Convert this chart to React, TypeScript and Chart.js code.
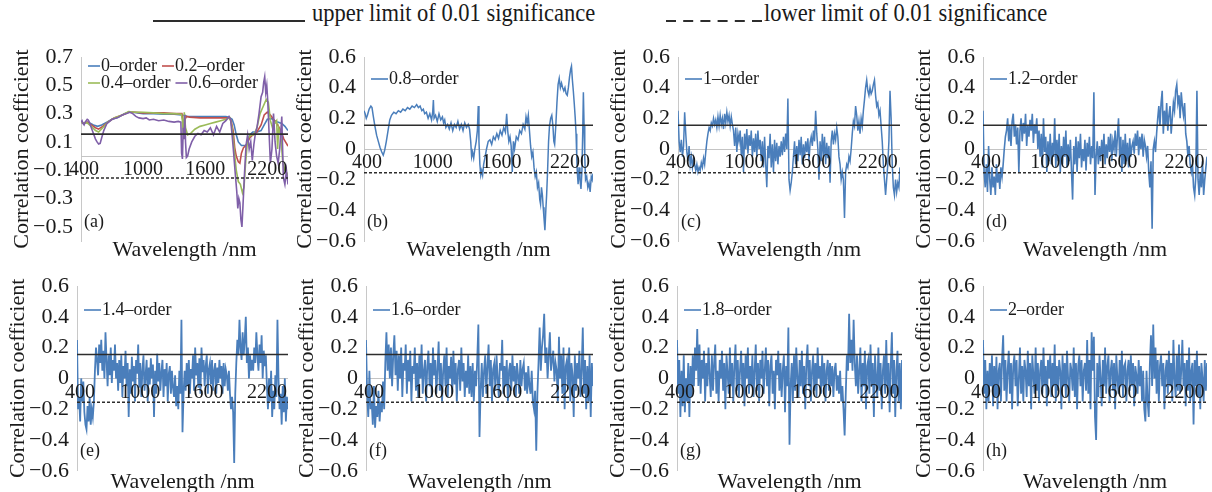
import React, { useEffect, useRef } from 'react';
import { Chart, registerables } from 'chart.js';

Chart.register(...registerables);

const FONT = "'Liberation Serif', 'Times New Roman', serif";
const TEXT = '#1a1a1a';
const BLUE = '#4a7ebb';

// ---- tick labels / thresholds ----
const X_TICKS = [400, 1000, 1600, 2200];
const Y_TICKS_A = [-0.5, -0.3, -0.1, 0.1, 0.3, 0.5, 0.7];
const Y_TICKS = [-0.6, -0.4, -0.2, 0, 0.2, 0.4, 0.6];
const UPPER_LIMIT = 0.155;
const LOWER_LIMIT = -0.155;

// ---- panel (a): [wavelength, r] ----
const A_ORDER_0 = [[400,.24],[430,.23],[460,.24],[480,.235],[520,.22],[560,.21],[600,.22],[650,.24],[700,.26],[760,.275],[820,.3],[860,.31],[900,.31],[950,.305],[1000,.3],[1100,.3],[1200,.295],[1300,.295],[1370,.29],[1385,.285],[1400,.29],[1420,.28],[1500,.28],[1600,.28],[1700,.28],[1800,.28],[1830,.275],[1860,.26],[1880,.22],[1900,.15],[1920,.1],[1950,.075],[1990,.075],[2010,.09],[2030,.15],[2060,.17],[2100,.17],[2140,.18],[2170,.22],[2200,.26],[2240,.265],[2270,.25],[2300,.24],[2340,.23],[2370,.21],[2400,.18]];
const A_ORDER_02 = [[400,.24],[430,.23],[460,.24],[500,.22],[540,.2],[570,.19],[610,.21],[660,.24],[720,.27],[800,.29],[860,.31],[920,.31],[1000,.305],[1100,.305],[1200,.305],[1300,.3],[1375,.3],[1385,.25],[1395,.2],[1405,.26],[1420,.28],[1450,.275],[1550,.27],[1650,.27],[1750,.27],[1830,.27],[1850,.25],[1870,.18],[1885,.06],[1900,0],[1920,-.04],[1935,-.05],[1950,.02],[1970,.06],[2000,.08],[2030,.13],[2060,.15],[2100,.17],[2140,.22],[2170,.29],[2200,.31],[2230,.29],[2260,.26],[2300,.22],[2330,.18],[2360,.12],[2400,.07]];
const A_ORDER_04 = [[400,.24],[430,.23],[460,.235],[500,.21],[540,.18],[570,.17],[610,.2],[660,.24],[720,.27],[800,.29],[860,.315],[920,.31],[1000,.31],[1100,.305],[1200,.3],[1300,.3],[1370,.295],[1380,.25],[1390,.13],[1398,.31],[1410,.2],[1430,.15],[1460,.16],[1500,.19],[1550,.21],[1600,.22],[1650,.23],[1700,.24],[1750,.25],[1800,.26],[1840,.27],[1860,.2],[1880,.05],[1900,-.1],[1920,-.18],[1940,-.2],[1960,-.26],[1975,-.22],[1990,-.05],[2010,.12],[2040,.15],[2070,.15],[2100,.2],[2130,.3],[2160,.35],[2190,.4],[2210,.38],[2230,.25],[2250,.2],[2270,.23],[2290,.25],[2300,.05],[2310,.2],[2330,.15],[2350,-.05],[2370,-.1],[2390,-.12],[2400,-.15]];
const A_ORDER_06 = [[400,.24],[410,.25],[420,.23],[430,.22],[440,.24],[450,.25],[460,.26],[470,.255],[480,.24],[500,.2],[520,.16],[540,.12],[555,.1],[570,.085],[585,.09],[600,.13],[620,.18],[650,.23],[700,.26],[750,.27],[800,.29],[840,.3],[870,.31],[900,.3],[930,.28],[960,.27],[1000,.265],[1030,.27],[1060,.255],[1100,.26],[1150,.25],[1200,.255],[1250,.245],[1300,.24],[1340,.245],[1365,.24],[1372,.02],[1380,-.02],[1388,.2],[1395,.12],[1403,.29],[1410,.1],[1418,-.01],[1430,0],[1445,.05],[1470,.1],[1500,.14],[1530,.16],[1560,.15],[1590,.18],[1620,.17],[1650,.2],[1680,.15],[1710,.21],[1740,.17],[1770,.23],[1800,.25],[1830,.28],[1845,.26],[1860,.15],[1875,.02],[1890,-.12],[1905,-.25],[1915,-.37],[1925,-.3],[1935,-.33],[1945,-.45],[1955,-.5],[1965,-.35],[1980,-.12],[1995,.08],[2010,.15],[2025,.05],[2040,.1],[2055,-.03],[2070,.08],[2085,.16],[2100,.2],[2120,.3],[2140,.42],[2155,.45],[2165,.52],[2175,.56],[2185,.45],[2195,.5],[2205,.38],[2215,.2],[2230,-.05],[2245,.05],[2260,.3],[2275,.1],[2290,0],[2305,-.05],[2320,.05],[2340,.28],[2355,-.15],[2370,-.2],[2385,-.1],[2400,-.2]];

// ---- panel (b): [wavelength, r] ----
const B_ORDER_08 = [[400,.25],[410,.23],[420,.2],[430,.22],[445,.26],[460,.28],[470,.27],[480,.22],[495,.15],[510,.09],[525,.05],[540,.01],[555,-.02],[568,-.04],[580,-.01],[595,.05],[610,.12],[625,.19],[640,.22],[660,.24],[680,.23],[700,.25],[720,.24],[740,.26],[760,.25],[780,.27],[800,.26],[820,.28],[840,.27],[860,.29],[875,.27],[890,.28],[905,.25],[918,.26],[930,.23],[945,.24],[960,.2],[975,.23],[990,.19],[1000,.24],[1006,.32],[1012,.2],[1025,.22],[1040,.18],[1055,.23],[1070,.19],[1085,.21],[1095,.17],[1105,.19],[1115,.14],[1130,.16],[1145,.13],[1160,.17],[1175,.12],[1190,.16],[1205,.14],[1220,.18],[1235,.13],[1250,.16],[1265,.12],[1280,.17],[1295,.14],[1310,.16],[1322,.13],[1332,.05],[1340,-.05],[1348,-.02],[1358,-.06],[1368,0],[1380,.05],[1390,.12],[1398,.28],[1404,.05],[1412,-.1],[1420,-.17],[1428,-.14],[1436,-.17],[1445,-.1],[1458,-.05],[1470,0],[1485,.05],[1500,.06],[1515,.03],[1530,.08],[1545,.06],[1560,.1],[1575,.07],[1590,.12],[1605,.09],[1620,.14],[1635,.11],[1646,.23],[1655,.12],[1665,.05],[1675,.08],[1685,.02],[1695,-.15],[1705,.05],[1715,0],[1730,.08],[1745,.06],[1760,.12],[1775,.1],[1790,.16],[1805,.13],[1815,.21],[1825,.17],[1835,.22],[1845,.12],[1855,.02],[1865,-.05],[1875,-.02],[1885,-.12],[1895,-.18],[1905,-.15],[1915,-.25],[1925,-.22],[1935,-.33],[1942,-.36],[1950,-.25],[1958,-.3],[1965,-.38],[1972,-.45],[1980,-.53],[1988,-.4],[1995,-.3],[2003,-.15],[2012,.05],[2020,.15],[2030,.2],[2040,.22],[2050,.15],[2058,.05],[2065,.03],[2075,.15],[2085,.3],[2095,.42],[2105,.46],[2115,.4],[2125,.43],[2135,.4],[2145,.38],[2155,.4],[2165,.36],[2175,.35],[2185,.4],[2195,.47],[2205,.52],[2212,.54],[2220,.45],[2228,.38],[2236,.3],[2245,.2],[2252,.1],[2258,-.05],[2263,-.15],[2270,-.23],[2278,-.12],[2286,-.2],[2295,-.26],[2303,-.15],[2310,.1],[2316,.37],[2322,.15],[2328,-.05],[2335,-.2],[2345,-.18],[2355,-.25],[2365,-.22],[2375,-.28],[2385,-.18],[2393,-.2],[2400,-.16]];

// ---- panels (c)-(h): r on a 10 nm grid, 400-2400 nm ----
const C_ORDER_1 = [.25,.05,-.02,.06,-.05,.02,.24,.1,-.02,-.08,.02,-.1,-.05,-.12,-.06,-.1,-.14,-.1,-.15,-.12,-.14,-.09,-.12,-.06,-.1,-.02,.05,.1,.14,.12,.17,.15,.2,.16,.19,.14,.21,.15,.22,.16,.2,.13,.23,.17,.24,.18,.22,.15,.21,.16,.12,.02,.14,-.02,.1,.05,.12,-.04,.08,-.15,.1,0,.13,-.03,.09,.02,.12,-.05,.07,-.02,.1,-.05,.12,0,.06,-.08,.05,-.12,.08,-.1,-.25,.02,-.06,.1,-.12,.03,-.15,.06,-.08,.04,-.1,.02,-.05,.05,-.04,.08,-.02,.1,0,.33,-.2,-.27,-.22,-.15,-.05,.05,-.1,.02,-.08,.06,-.04,.08,-.1,.03,-.06,.05,-.02,.07,-.08,.04,.08,.02,.12,.05,.25,.1,0,-.2,.05,-.08,.1,-.05,.08,-.1,.04,-.06,.02,-.22,.05,.12,.03,.1,.06,.14,.08,-.05,-.1,-.2,-.15,-.2,-.45,-.15,-.1,-.12,-.05,-.08,0,.1,.18,.15,.28,.22,.12,.18,.1,.2,.15,.25,.32,.4,.45,.38,.35,.4,.36,.38,.42,.45,.35,.28,.3,.22,.25,.15,.05,-.1,-.2,-.3,-.2,-.1,.05,.38,.2,-.1,-.25,-.3,-.2,-.28,-.22,-.25,-.12];
const D_ORDER_12 = [.25,-.15,-.25,-.1,-.28,.02,-.2,-.3,-.12,-.25,-.18,-.3,-.1,-.22,-.15,-.26,-.12,-.18,-.1,0,.08,.12,.2,.05,.15,.02,.18,.23,.08,.16,.03,.14,-.15,.12,.2,.05,.17,.1,.23,.02,.15,.08,.19,.12,.23,.04,.16,.1,.2,0,.12,-.05,.1,-.12,.2,-.02,.08,-.15,.05,-.08,.1,-.1,.04,-.05,.2,-.12,.06,-.08,.1,-.15,.02,-.1,.08,-.05,.12,-.12,.03,-.08,.06,-.14,-.33,.02,-.1,.08,-.15,.05,-.06,.1,-.12,0,-.08,.06,-.14,.04,-.05,.08,-.1,.02,-.06,.37,-.3,-.05,.05,-.1,.02,-.08,.06,-.05,.1,-.1,.03,-.06,.08,-.02,.1,-.08,.05,0,.12,-.05,.08,.2,-.05,.08,-.15,.06,-.1,.1,-.08,.04,-.12,.07,-.05,.02,.05,-.03,.1,.02,.12,-.04,.08,0,.1,-.05,.06,.02,-.05,.02,-.15,-.25,-.08,-.52,0,.05,-.02,.1,.2,.28,.15,.3,.38,.1,.25,.15,.3,.12,.22,.28,.1,.2,.3,.25,.38,.42,.3,.35,.2,.37,.28,.22,.3,.1,.05,-.05,.02,-.1,-.15,-.1,-.25,-.3,-.18,.38,-.2,-.3,-.15,-.25,-.08,-.3,-.2,-.12,-.05];
const E_ORDER_14 = [.25,-.2,-.12,-.28,0,-.15,-.02,-.22,-.3,-.33,-.18,-.28,-.12,-.3,-.2,-.25,-.15,.05,.2,.12,.02,.22,.1,.25,.05,.18,0,.3,.12,-.05,.15,.02,.2,-.03,.12,.05,.22,0,.1,-.08,.12,-.03,.15,-.12,.08,0,.18,-.05,.1,-.25,.06,-.1,.14,-.02,.08,-.15,.12,.03,.22,-.06,.1,-.12,.05,.15,-.08,.02,.12,-.15,.07,-.04,.13,0,.09,-.25,.05,-.1,.16,-.02,.1,-.08,.04,.12,-.12,.06,-.05,.1,-.15,.03,.08,-.1,.05,-.06,-.12,.02,-.18,-.05,-.2,.05,-.1,.38,-.35,-.1,.05,-.08,.1,-.05,.12,-.1,.06,0,.15,-.08,.2,.02,.1,-.06,.13,-.1,.2,.04,.12,-.05,.08,.15,-.1,.06,.1,-.04,.12,-.08,.05,.1,-.1,.07,-.03,.12,0,.08,-.1,.1,-.05,.06,.02,-.08,.05,-.1,-.2,-.12,-.22,-.55,-.1,.1,.25,.15,.38,.2,.12,.3,.15,.25,.4,.1,.2,0,.15,.05,.12,.05,.2,.1,.3,.15,.05,.22,.1,.28,0,.18,.08,.15,-.05,-.2,0,-.15,.05,-.25,-.08,-.2,.02,-.12,.38,0,-.2,-.1,-.3,-.05,-.22,0,-.28,-.12,-.2];
const F_ORDER_16 = [.25,-.1,-.25,.05,-.2,-.15,-.3,-.05,-.32,-.18,-.25,-.08,-.28,-.15,-.22,-.02,-.2,.1,.3,.05,.22,0,.2,-.05,.15,.28,.02,.18,-.08,.15,0,.2,-.12,.1,.05,.22,-.1,.12,-.02,.18,-.15,.08,.03,.2,-.08,.1,-.12,.15,0,.22,-.1,.05,.12,-.15,.08,.18,-.05,.1,-.12,.2,.02,.12,-.1,.06,.24,-.08,.1,-.15,.05,.15,-.05,.2,-.12,.08,0,.14,-.1,.18,-.04,.1,-.15,.06,.12,-.08,.2,-.02,.1,-.12,.05,-.06,.15,-.1,.08,-.12,.1,-.15,.05,-.05,.12,.35,-.38,-.08,.1,-.12,.05,.15,-.1,.08,.22,-.05,.12,-.15,.06,.1,-.08,.15,0,-.12,.1,.05,.25,-.1,.08,-.05,.12,-.15,.05,.1,-.08,.15,-.02,.08,-.12,.1,.02,-.1,.12,-.05,.06,.1,-.08,.04,-.1,.08,-.05,-.1,.05,-.15,-.2,-.08,-.47,-.1,.1,.33,.05,.2,.28,.42,.1,.2,0,.15,.3,.05,.12,.18,-.02,.1,.05,-.15,.27,0,.15,-.1,.2,-.2,.08,.12,-.05,.2,-.15,.1,.02,-.25,.15,-.08,.1,0,.18,-.12,.05,.33,-.1,.12,-.2,.08,-.15,.15,-.25,.1,-.05];
const G_ORDER_18 = [.25,-.1,.12,-.25,.05,-.18,.15,-.22,0,-.15,.1,-.25,.08,-.12,.15,-.05,.2,.05,.32,-.05,.22,-.1,.12,0,.18,-.15,.1,-.05,.2,.02,-.12,.15,-.08,.1,.22,-.1,.05,-.15,.12,0,.18,-.08,.1,-.2,.15,.03,-.1,.2,-.05,.1,-.15,.08,.22,-.08,.12,-.12,.05,.18,-.05,.1,-.18,.15,0,.2,-.1,.08,-.05,.15,-.12,.05,.22,-.08,.1,-.15,.12,0,.18,-.1,.05,.2,-.05,.12,-.18,.08,.15,-.1,.05,-.2,.12,.02,.18,-.08,.1,-.12,.05,.15,-.22,.08,-.05,.33,-.43,-.05,.1,-.15,.15,-.08,.2,0,-.12,.12,-.05,.18,-.1,.08,-.2,.1,.22,-.05,.12,-.15,.05,.15,-.08,.1,-.12,.2,0,.08,-.1,.15,-.05,.1,-.15,.05,.12,-.08,.1,-.05,.08,-.12,.05,.1,-.08,.02,-.1,.05,-.15,-.05,-.2,-.37,-.1,.15,.05,.42,.1,.25,.05,.38,.1,-.05,.15,-.1,.05,.2,-.15,.1,-.05,.18,-.2,.08,.12,-.1,.22,-.05,.1,-.25,.15,0,-.12,.2,-.08,.1,-.2,.05,.15,-.1,.25,-.05,.1,-.22,.08,.3,-.1,.12,-.25,.05,.18,-.15,.1,-.2,.12];
const H_ORDER_2 = [.25,-.1,.12,-.2,.05,-.15,.1,-.05,.15,-.18,.08,-.12,.14,-.2,.05,.1,-.15,.12,.28,-.08,.12,-.15,.05,.18,-.1,.1,-.2,.08,.15,-.05,.12,-.18,0,.2,-.1,.08,-.15,.12,.05,-.12,.18,-.05,.1,-.2,.15,.02,-.1,.2,-.08,.1,-.15,.05,.12,-.1,.2,-.05,.08,-.18,.12,0,.15,-.12,.1,-.05,.22,-.15,.08,-.08,.12,.05,-.2,.15,-.05,.1,-.12,.18,0,-.15,.1,.05,-.08,.2,-.12,.1,-.2,.08,.15,-.05,.12,-.15,.05,.1,-.08,.25,-.1,.12,-.2,.3,.05,.27,-.25,-.4,.1,-.12,.15,0,-.18,.12,-.05,.2,-.1,.08,.15,-.15,.05,.12,-.08,.1,-.2,.15,0,-.1,.12,-.05,.18,-.12,.08,.1,-.15,.05,.12,-.08,.15,-.05,.1,-.18,.08,.02,-.1,.12,-.05,.08,-.15,.05,-.2,-.28,.05,-.15,-.25,.1,.28,-.05,.35,0,.2,-.1,.12,-.15,.08,.15,-.05,.1,-.2,.05,.12,-.1,.18,-.05,.1,-.15,.25,0,-.12,.15,-.08,.22,-.1,.05,.25,-.05,.1,-.18,.12,-.08,.2,-.15,.05,.1,-.3,.12,-.05,.18,-.12,.08,-.2,.1,0,-.15,.12,-.08,.1];

const pairsToPoints = (pairs: number[][]) => pairs.map(([x, y]) => ({ x, y }));
const gridToPoints = (vals: number[]) =>
  vals.map((y, i) => ({ x: 400 + (i * 2000) / (vals.length - 1), y }));

const fmt = (v: number) => {
  const r = Math.round(v * 10) / 10;
  if (r === 0) return '0';
  return r < 0 ? '\u2212' + Math.abs(r).toFixed(1) : r.toFixed(1);
};

const ROWS = [
  { top: 28, height: 240, plotTop: 57, plotBottom: 241, labelY: 222, titleY: 250, legendOff: 22 },
  { top: 262, height: 230, plotTop: 286, plotBottom: 476, labelY: 451, titleY: 482, legendOff: 24 },
];

type Series = { name: string; color: string; width: number; points: { x: number; y: number }[] };
type PanelCfg = {
  tag: string; row: number; plotLeft: number; plotRight: number;
  yMin: number; yMax: number; yTicks: number[];
  series: Series[]; legendRows: number[][]; legendLine: number; legendOff?: number;
};

const single = (name: string, pts: { x: number; y: number }[], width = 1.8): Series[] => [
  { name, color: BLUE, width, points: pts },
];

const PANELS: PanelCfg[] = [
  {
    tag: '(a)', row: 0, plotLeft: 81, plotRight: 288, yMin: -0.6, yMax: 0.7, yTicks: Y_TICKS_A,
    series: [
      { name: '0\u2013order', color: '#4a7ebb', width: 1.6, points: pairsToPoints(A_ORDER_0) },
      { name: '0.2\u2013order', color: '#c0504d', width: 1.6, points: pairsToPoints(A_ORDER_02) },
      { name: '0.4\u2013order', color: '#9bbb59', width: 1.6, points: pairsToPoints(A_ORDER_04) },
      { name: '0.6\u2013order', color: '#7f5fa8', width: 1.6, points: pairsToPoints(A_ORDER_06) },
    ],
    legendRows: [[0, 1], [2, 3]], legendLine: 12, legendOff: 9,
  },
  { tag: '(b)', row: 0, plotLeft: 364, plotRight: 593, yMin: -0.6, yMax: 0.6, yTicks: Y_TICKS,
    series: single('0.8\u2013order', pairsToPoints(B_ORDER_08), 1.5), legendRows: [[0]], legendLine: 17 },
  { tag: '(c)', row: 0, plotLeft: 678, plotRight: 900, yMin: -0.6, yMax: 0.6, yTicks: Y_TICKS,
    series: single('1\u2013order', gridToPoints(C_ORDER_1), 1.5), legendRows: [[0]], legendLine: 17 },
  { tag: '(d)', row: 0, plotLeft: 983, plotRight: 1207, yMin: -0.6, yMax: 0.6, yTicks: Y_TICKS,
    series: single('1.2\u2013order', gridToPoints(D_ORDER_12), 1.6), legendRows: [[0]], legendLine: 17 },
  { tag: '(e)', row: 1, plotLeft: 77, plotRight: 288, yMin: -0.6, yMax: 0.6, yTicks: Y_TICKS,
    series: single('1.4\u2013order', gridToPoints(E_ORDER_14)), legendRows: [[0]], legendLine: 17 },
  { tag: '(f)', row: 1, plotLeft: 366, plotRight: 593, yMin: -0.6, yMax: 0.6, yTicks: Y_TICKS,
    series: single('1.6\u2013order', gridToPoints(F_ORDER_16)), legendRows: [[0]], legendLine: 17 },
  { tag: '(g)', row: 1, plotLeft: 677, plotRight: 902, yMin: -0.6, yMax: 0.6, yTicks: Y_TICKS,
    series: single('1.8\u2013order', gridToPoints(G_ORDER_18)), legendRows: [[0]], legendLine: 17 },
  { tag: '(h)', row: 1, plotLeft: 983, plotRight: 1207, yMin: -0.6, yMax: 0.6, yTicks: Y_TICKS,
    series: single('2\u2013order', gridToPoints(H_ORDER_2)), legendRows: [[0]], legendLine: 17 },
];

function PanelChart({ cfg }: { cfg: PanelCfg }) {
  const ref = useRef<HTMLCanvasElement>(null);
  const row = ROWS[cfg.row];
  const axisWidth = Math.min(81, cfg.plotLeft);
  const x0 = cfg.plotLeft - axisWidth;
  const width = cfg.plotRight + 4 - x0;

  useEffect(() => {
    const canvas = ref.current;
    if (!canvas) return;
    const titlePad = Math.max(0, axisWidth - 59 - 13.2);

    const decor = {
      id: 'decor',
      beforeDatasetsDraw(chart: any) {
        const { ctx, chartArea, scales } = chart;
        const y0 = Math.round(scales.y.getPixelForValue(0)) + 0.5;
        ctx.save();
        ctx.strokeStyle = '#c4c4c4';
        ctx.lineWidth = 1;
        ctx.beginPath();
        ctx.moveTo(chartArea.left, y0);
        ctx.lineTo(chartArea.right, y0);
        ctx.stroke();
        ctx.restore();
      },
      afterDatasetsDraw(chart: any) {
        const { ctx, chartArea, scales } = chart;
        const y0 = scales.y.getPixelForValue(0);
        ctx.save();
        ctx.fillStyle = TEXT;
        ctx.font = `20px ${FONT}`;
        ctx.textAlign = 'center';
        ctx.textBaseline = 'middle';
        X_TICKS.forEach((v) => {
          const px = scales.x.getPixelForValue(v) + (v === X_TICKS[0] ? 3 : 0);
          ctx.fillText(String(v), px, y0 + 14);
        });
        ctx.font = `22px ${FONT}`;
        ctx.fillText('Wavelength /nm', (chartArea.left + chartArea.right) / 2, row.titleY - row.top);
        ctx.font = `18px ${FONT}`;
        ctx.textAlign = 'left';
        ctx.fillText(cfg.tag, chartArea.left + 3, row.labelY - row.top);
        const off = cfg.legendOff ?? row.legendOff;
        cfg.legendRows.forEach((idxs, r) => {
          let x = chartArea.left + 7;
          const y = chartArea.top + off + r * 17;
          idxs.forEach((i) => {
            const s = cfg.series[i];
            ctx.strokeStyle = s.color;
            ctx.lineWidth = 1.6;
            ctx.beginPath();
            ctx.moveTo(x, y);
            ctx.lineTo(x + cfg.legendLine, y);
            ctx.stroke();
            x += cfg.legendLine + 1;
            ctx.fillStyle = TEXT;
            ctx.fillText(s.name, x, y);
            x += ctx.measureText(s.name).width + 5;
          });
        });
        ctx.restore();
      },
    };

    const datasets: any[] = [
      { label: 'upper', data: [{ x: 400, y: UPPER_LIMIT }, { x: 2400, y: UPPER_LIMIT }],
        borderColor: '#2d2d2d', borderWidth: 1.6, pointRadius: 0, order: 0 },
      { label: 'lower', data: [{ x: 400, y: LOWER_LIMIT }, { x: 2400, y: LOWER_LIMIT }],
        borderColor: '#2d2d2d', borderWidth: 1.6, borderDash: [3, 2], pointRadius: 0, order: 0 },
      ...cfg.series.map((s, i) => ({
        label: s.name, data: s.points, borderColor: s.color, borderWidth: s.width,
        pointRadius: 0, tension: 0, order: 10 - i,
      })),
    ];

    const chart = new Chart(canvas, {
      type: 'line',
      data: { datasets },
      options: {
        animation: false,
        responsive: false,
        events: [],
        layout: {
          padding: { left: 0, right: 4, top: row.plotTop - row.top, bottom: row.top + row.height - row.plotBottom },
        },
        plugins: { legend: { display: false }, tooltip: { enabled: false } },
        scales: {
          x: { type: 'linear', min: 400, max: 2400, display: false },
          y: {
            type: 'linear',
            min: cfg.yMin,
            max: cfg.yMax,
            afterBuildTicks: (scale: any) => { scale.ticks = cfg.yTicks.map((value) => ({ value })); },
            afterFit: (scale: any) => { scale.width = axisWidth; },
            grid: { display: true, drawOnChartArea: false, drawTicks: false },
            border: { display: true, color: '#c8c8c8', width: 1 },
            ticks: { font: { family: FONT, size: 22 }, color: TEXT, padding: 8, callback: (v: any) => fmt(Number(v)) },
            title: {
              display: true, text: 'Correlation coefficient', color: TEXT,
              font: { family: FONT, size: 22 }, padding: { top: titlePad, bottom: 0 },
            },
          },
        },
      } as any,
      plugins: [decor],
    });
    return () => chart.destroy();
  }, []);

  return (
    <canvas
      ref={ref}
      width={width}
      height={row.height}
      style={{ position: 'absolute', left: x0, top: row.top, width, height: row.height }}
    />
  );
}

export default function App() {
  const legendText: React.CSSProperties = {
    position: 'absolute', top: -2, fontFamily: FONT, fontSize: 26, lineHeight: '30px', whiteSpace: 'nowrap', color: TEXT,
    transform: 'scaleX(0.866)', transformOrigin: 'left center',
  };
  return (
    <div style={{ position: 'fixed', left: 0, top: 0, width: 1212, height: 492, overflow: 'hidden', background: '#fff' }}>
      <div style={{ position: 'absolute', left: 153, top: 20, width: 152, height: 2, background: '#2d2d2d' }} />
      <div style={{ ...legendText, left: 312 }}>upper limit of 0.01 significance</div>
      <svg style={{ position: 'absolute', left: 666, top: 19 }} width={96} height={4}>
        <line x1={0} y1={2} x2={96} y2={2} stroke="#2d2d2d" strokeWidth={2} strokeDasharray="10 7.2" />
      </svg>
      <div style={{ ...legendText, left: 764 }}>lower limit of 0.01 significance</div>
      {PANELS.map((p) => (
        <PanelChart key={p.tag} cfg={p} />
      ))}
    </div>
  );
}
